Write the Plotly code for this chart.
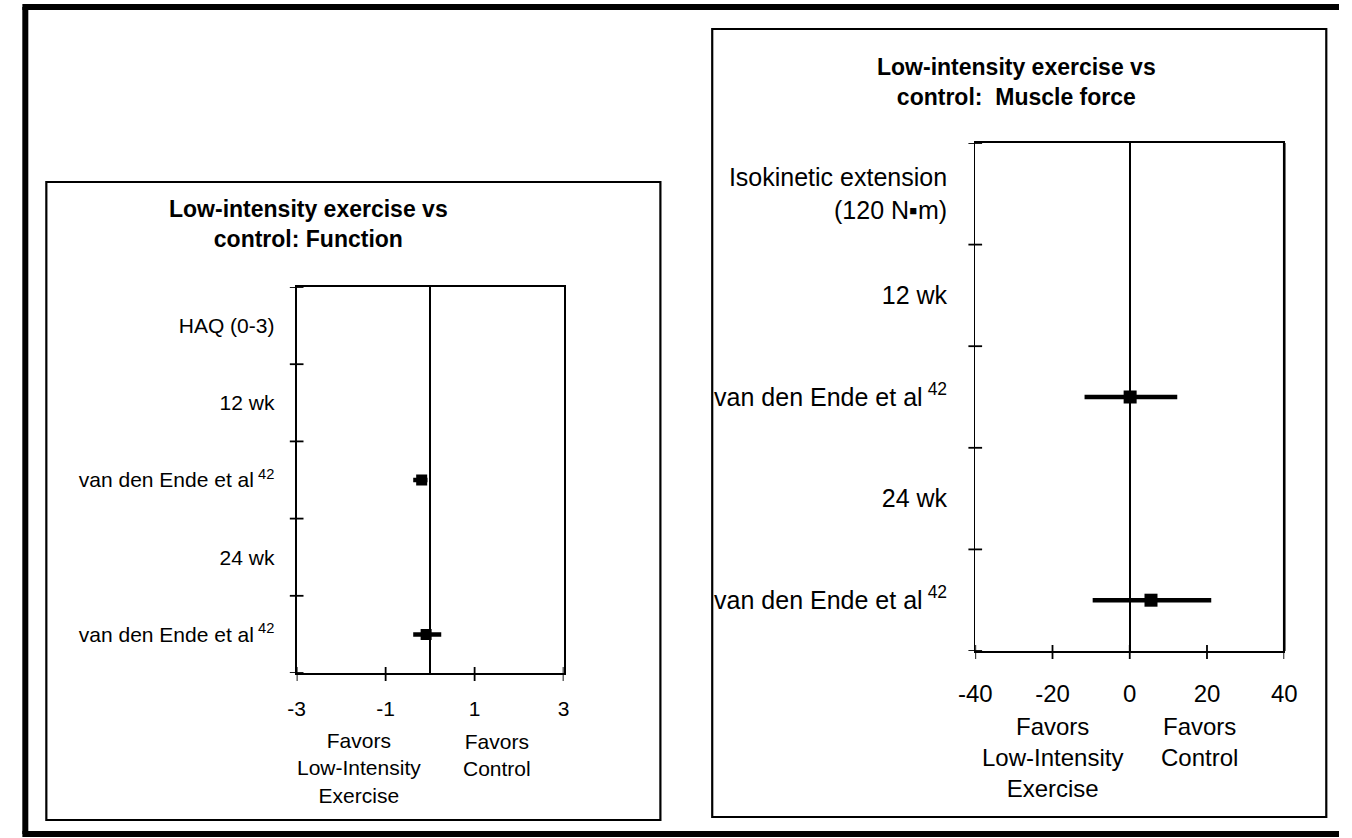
import plotly.graph_objects as go

W, H = 1352, 838
FONT = "Arial, Liberation Sans, sans-serif"

# ---- Low-intensity exercise vs control: Function (HAQ, 0-3) ----
func_rows = ["HAQ (0-3)", "12 wk", "van den Ende et al\u2009<sup>42</sup>", "24 wk",
             "van den Ende et al\u2009<sup>42</sup>"]
func_est = [None, None, -0.19, None, -0.09]
func_lo = [None, None, -0.38, None, -0.38]
func_hi = [None, None, -0.06, None, 0.25]
func_ticks = [-3, -1, 1, 3]

# ---- Low-intensity exercise vs control: Muscle force ----
force_rows = ["Isokinetic extension<br>(120 N\u25aam)", "12 wk",
              "van den Ende et al\u2009<sup>42</sup>", "24 wk",
              "van den Ende et al\u2009<sup>42</sup>"]
force_est = [None, None, 0.1, None, 5.5]
force_lo = [None, None, -11.7, None, -9.6]
force_hi = [None, None, 12.3, None, 21.1]
force_ticks = [-40, -20, 0, 20, 40]


def px_x(p):
    return p / W


def px_y(p):
    return (H - p) / H


def study_points(est, lo, hi):
    ys, xs, plus, minus = [], [], [], []
    for i, (e, l, h) in enumerate(zip(est, lo, hi)):
        if e is None:
            continue
        ys.append(i + 1)
        xs.append(e)
        plus.append(h - e)
        minus.append(e - l)
    return xs, ys, plus, minus


def tick_text(vals):
    # plain hyphen for negatives
    return [str(v) for v in vals]


fig = go.Figure()

for est, lo, hi, xa, ya, msize in [
    (func_est, func_lo, func_hi, "x", "y", 11),
    (force_est, force_lo, force_hi, "x2", "y2", 13),
]:
    xs, ys, plus, minus = study_points(est, lo, hi)
    fig.add_trace(go.Scatter(
        x=xs, y=ys, xaxis=xa, yaxis=ya, mode="markers",
        marker=dict(symbol="square", size=msize, color="black"),
        error_x=dict(type="data", symmetric=False, array=plus, arrayminus=minus,
                     thickness=4.5, width=0, color="black"),
        showlegend=False, hoverinfo="skip",
    ))

# plot-area geometry (pixels)
L = dict(x0=286, x1=559, y0=287, y1=673)
R = dict(x0=980, x1=1296, y0=143, y1=651)

common_y = dict(showline=True, linecolor="black", mirror=True, showgrid=False,
                zeroline=False, ticks="", autorange=False)
common_x = dict(showline=True, linecolor="black", mirror=True, showgrid=False,
                ticks="", zeroline=True, zerolinecolor="black", autorange=False)

n_func = len(func_rows)
n_force = len(force_rows)

fig.update_layout(
    width=W, height=H, margin=dict(l=0, r=0, t=0, b=0),
    paper_bgcolor="white", plot_bgcolor="white",
    font=dict(family=FONT, color="black"),
    xaxis=dict(domain=[px_x(L["x0"]), px_x(L["x1"])], anchor="y",
               range=[func_ticks[0], func_ticks[-1]], tickvals=func_ticks,
               ticktext=tick_text(func_ticks),
               tickfont=dict(size=21), ticklabelstandoff=16, linewidth=2,
               zerolinewidth=2, **common_x),
    yaxis=dict(domain=[px_y(L["y1"]), px_y(L["y0"])], anchor="x",
               range=[n_func + 0.5, 0.5], tickvals=list(range(1, n_func + 1)),
               ticktext=func_rows, tickfont=dict(size=21), ticklabelstandoff=16,
               linewidth=2, **common_y),
    xaxis2=dict(domain=[px_x(R["x0"]), px_x(R["x1"])], anchor="y2",
                range=[force_ticks[0], force_ticks[-1]], tickvals=force_ticks,
                ticktext=tick_text(force_ticks),
                tickfont=dict(size=24), ticklabelstandoff=20, linewidth=1.5,
                zerolinewidth=1.5, **common_x),
    yaxis2=dict(domain=[px_y(R["y1"]), px_y(R["y0"])], anchor="x2",
                range=[n_force + 0.5, 0.5], tickvals=list(range(1, n_force + 1)),
                ticktext=force_rows, tickfont=dict(size=25), ticklabelstandoff=22,
                linewidth=1.3, **common_y),
)

shapes = []

# tick marks crossing the axes
for box, xr, yr, xticks, nrows in [(L, "x", "y", func_ticks, n_func),
                                   (R, "x2", "y2", force_ticks, n_force)]:
    w = box["x1"] - box["x0"]
    h = box["y1"] - box["y0"]
    for v in xticks:
        shapes.append(dict(type="line", xref=xr, yref=yr + " domain",
                           x0=v, x1=v, y0=-8 / h, y1=6 / h,
                           line=dict(color="black", width=1.8)))
    for k in range(nrows + 1):
        b = k + 0.5
        shapes.append(dict(type="line", xref=xr + " domain", yref=yr,
                           x0=-7 / w, x1=7 / w, y0=b, y1=b,
                           line=dict(color="black", width=1.8)))

# heavier right edge of the muscle-force plot area
shapes.append(dict(type="line", xref="x2 domain", yref="y2 domain",
                   x0=1, x1=1, y0=0, y1=1, line=dict(color="black", width=2.6)))

# panel frames
shapes.append(dict(type="rect", xref="paper", yref="paper",
                   x0=px_x(30), x1=px_x(658), y0=px_y(820), y1=px_y(182),
                   line=dict(color="black", width=2.2)))
shapes.append(dict(type="rect", xref="paper", yref="paper",
                   x0=px_x(711), x1=px_x(1339), y0=px_y(817), y1=px_y(29),
                   line=dict(color="black", width=2.2)))

# outer figure frame (open on the right edge)
frame = dict(color="black", width=6)
shapes.append(dict(type="line", xref="paper", yref="paper",
                   x0=px_x(8.5), x1=px_x(8.5), y0=px_y(834), y1=px_y(7), line=frame))
shapes.append(dict(type="line", xref="paper", yref="paper",
                   x0=px_x(5.5), x1=1, y0=px_y(7), y1=px_y(7), line=frame))
shapes.append(dict(type="line", xref="paper", yref="paper",
                   x0=px_x(5.5), x1=1, y0=px_y(834), y1=px_y(834), line=frame))

fig.update_layout(shapes=shapes)

annotations = [
    dict(text="<b>Low-intensity exercise vs<br>control: Function</b>",
         x=px_x(298), y=px_y(224), font=dict(size=23)),
    dict(text="<b>Low-intensity exercise vs<br>control:  Muscle force</b>",
         x=px_x(1022), y=px_y(81.5), font=dict(size=23)),
    dict(text="Favors<br>Low-Intensity<br>Exercise",
         x=px_x(350), y=px_y(768), font=dict(size=21)),
    dict(text="Favors<br>Control",
         x=px_x(491), y=px_y(755), font=dict(size=21)),
    dict(text="Favors<br>Low-Intensity<br>Exercise",
         x=px_x(1059), y=px_y(757), font=dict(size=24)),
    dict(text="Favors<br>Control",
         x=px_x(1209), y=px_y(742), font=dict(size=24)),
]
for a in annotations:
    a.update(xref="paper", yref="paper", xanchor="center", yanchor="middle",
             showarrow=False, align="center")
fig.update_layout(annotations=annotations)

fig.write_html("out.html")
